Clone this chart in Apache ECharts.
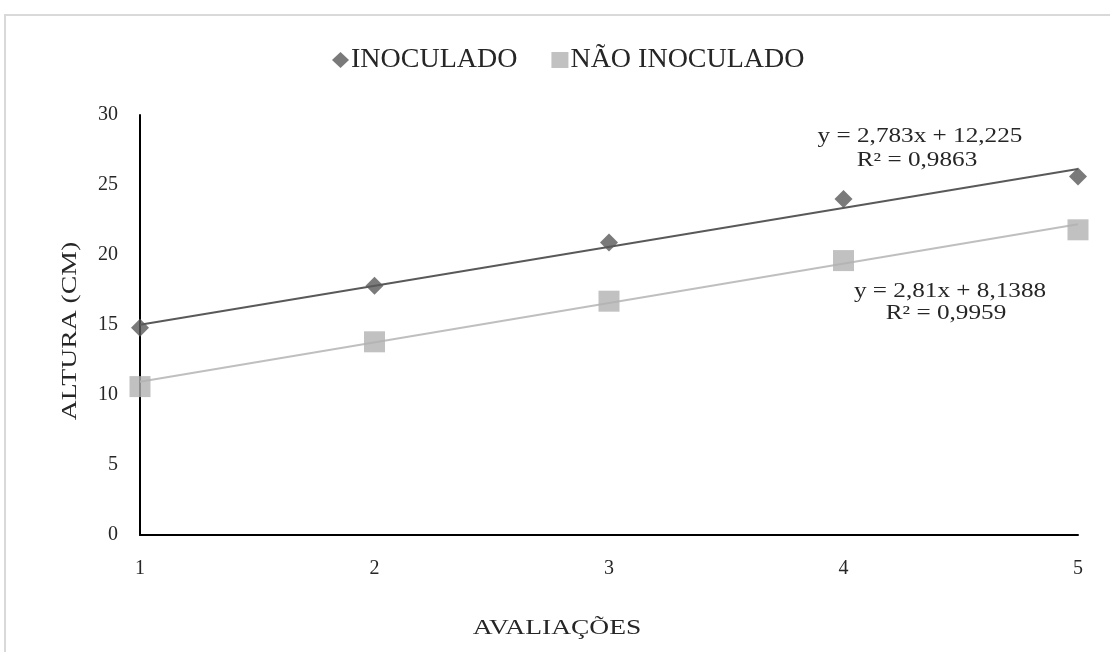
<!DOCTYPE html>
<html>
<head>
<meta charset="utf-8">
<script src="https://cdn.jsdelivr.net/npm/echarts@6/dist/echarts.min.js"></script>
<style>html,body{margin:0;padding:0;background:#fff}#c{width:1110px;height:652px}</style>
</head>
<body>
<div id="c"></div>
<script>
var avaliacoes = [1, 2, 3, 4, 5];
var inoculado = [14.8, 17.8, 20.9, 24.0, 25.6];
var naoInoculado = [10.6, 13.8, 16.7, 19.6, 21.8];
var trendX = [1, 5];
var trendInoculado = [15.01, 26.14];
var trendNao = [10.95, 22.19];
var yTicks = [0, 5, 10, 15, 20, 25, 30];
var eqInoculado = ['y = 2,783x + 12,225', 'R² = 0,9863'];
var eqNao = ['y = 2,81x + 8,1388', 'R² = 0,9959'];

var FONT = '"Liberation Serif", "Times New Roman", serif';
function pairs(xs, ys) { return xs.map(function (x, i) { return [x, ys[i]]; }); }
function label(text, x, y, size, sx, rot) {
  return { type: 'text', x: x, y: y, rotation: rot || 0, scaleX: sx, silent: true,
    style: { text: text, fontFamily: FONT, fontSize: size, fill: '#262626', textAlign: 'center', textVerticalAlign: 'middle' } };
}

var chart = echarts.init(document.getElementById('c'));
chart.setOption({
  animation: false,
  backgroundColor: '#fff',
  textStyle: { fontFamily: FONT },
  grid: { left: 140, right: 32, top: 115, bottom: 117 },
  legend: {
    top: 41, left: 327,
    data: [
      { name: 'INOCULADO', icon: 'diamond', itemStyle: { color: '#595959' } },
      { name: 'NÃO INOCULADO', icon: 'rect', itemStyle: { color: '#b2b2b2' } }
    ],
    itemWidth: 17, itemHeight: 16, itemGap: 34,
    textStyle: { fontFamily: FONT, fontSize: 28, color: '#262626', padding: [0, 0, 0, -3] }
  },
  xAxis: {
    type: 'value', min: 1, max: 5, interval: 1,
    axisLine: { show: true, lineStyle: { color: '#000', width: 2 } },
    axisTick: { show: false }, splitLine: { show: false },
    axisLabel: { fontFamily: FONT, fontSize: 20, color: '#262626', margin: 24 }
  },
  yAxis: {
    type: 'value', min: yTicks[0], max: yTicks[yTicks.length - 1], interval: 5,
    axisLine: { show: true, lineStyle: { color: '#000', width: 2 } },
    axisTick: { show: false }, splitLine: { show: false },
    axisLabel: { fontFamily: FONT, fontSize: 20, color: '#262626', margin: 22 }
  },
  series: [
    { name: 'trend1', type: 'line', data: pairs(trendX, trendInoculado), symbol: 'none', silent: true,
      lineStyle: { color: '#595959', width: 2 }, z: 2 },
    { name: 'trend2', type: 'line', data: pairs(trendX, trendNao), symbol: 'none', silent: true,
      lineStyle: { color: '#bfbfbf', width: 2 }, z: 2 },
    { name: 'INOCULADO', type: 'scatter', data: pairs(avaliacoes, inoculado), symbol: 'diamond',
      symbolSize: 18, itemStyle: { color: '#595959' }, z: 3 },
    { name: 'NÃO INOCULADO', type: 'scatter', data: pairs(avaliacoes, naoInoculado), symbol: 'rect',
      symbolSize: 21, itemStyle: { color: '#b2b2b2' }, z: 3 }
  ],
  graphic: [
    { type: 'rect', shape: { x: 5, y: 15, width: 1200, height: 800 }, silent: true,
      style: { fill: 'none', stroke: '#d9d9d9', lineWidth: 2 }, z: -1 },
    label('ALTURA (CM)', 70, 331, 21, 1.32, Math.PI / 2),
    label('AVALIAÇÕES', 557, 628, 21, 1.31),
    label(eqInoculado[0], 920, 137, 20, 1.26),
    label(eqInoculado[1], 917, 161, 20, 1.26),
    label(eqNao[0], 950, 292, 20, 1.26),
    label(eqNao[1], 946, 314, 20, 1.26)
  ]
});
</script>
</body>
</html>
